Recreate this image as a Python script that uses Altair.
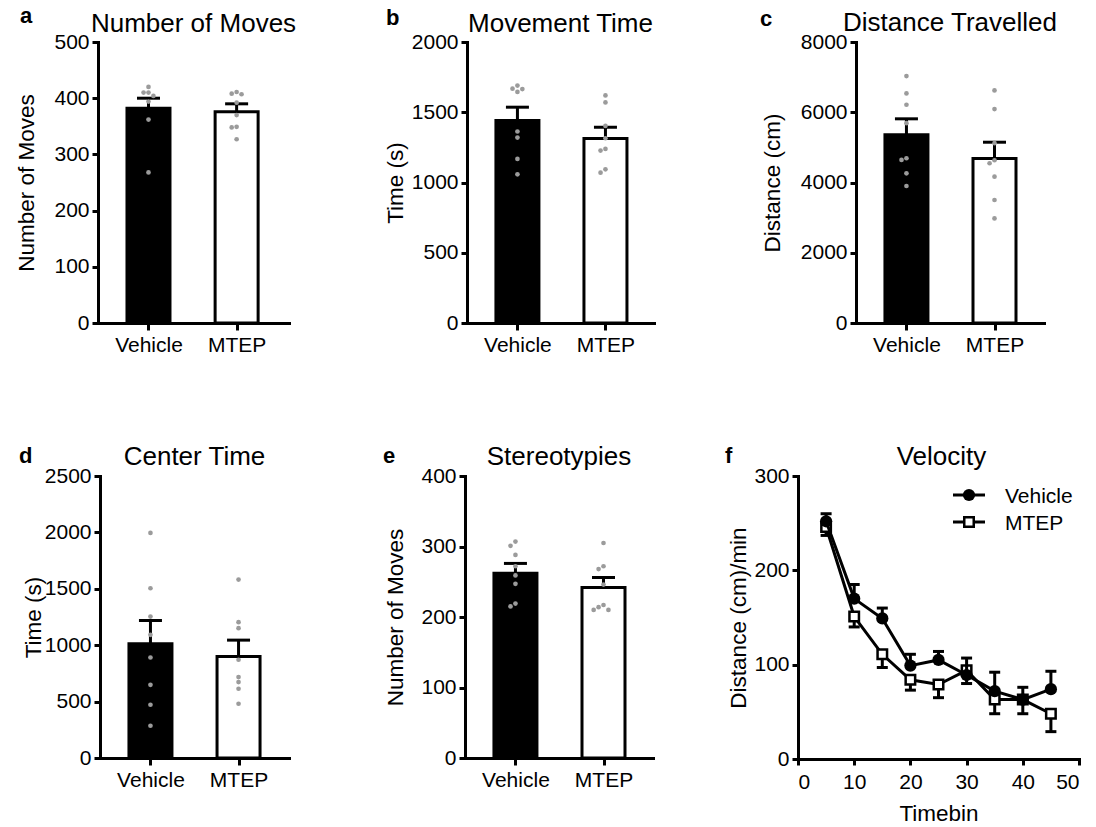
import altair as alt
import pandas as pd
import numpy as np

FONT = "Liberation Sans"
groups = ["Vehicle", "MTEP"]

# ---- data ----
a_veh = [420, 410, 410, 404, 394, 362, 268]
a_mtep = [411, 408, 407, 392, 370, 349, 348, 327]
a_mean = [382, 376]
a_sem = [18, 14]

b_veh = [1690, 1668, 1665, 1645, 1363, 1320, 1168, 1058]
b_mtep = [1620, 1570, 1403, 1315, 1239, 1227, 1094, 1070]
b_mean = [1441, 1313]
b_sem = [95, 81]

c_veh = [7031, 6537, 6213, 5690, 4690, 4643, 4262, 3901]
c_mtep = [6622, 6089, 5119, 4634, 4548, 4167, 3501, 2978]
c_mean = [5356, 4681]
c_sem = [457, 466]

d_veh = [1995, 1505, 1254, 1092, 891, 649, 472, 286]
d_mtep = [1582, 1204, 1151, 871, 717, 673, 614, 481]
d_mean = [1012, 900]
d_sem = [207, 145]

e_veh = [307, 301, 288, 272, 259, 247, 219, 215]
e_mtep = [305, 272, 268, 246, 217, 214, 210, 210]
e_mean = [262, 242]
e_sem = [14, 14]

timebin = [5, 10, 15, 20, 25, 30, 35, 40, 45]
f_veh = [252, 170, 149, 99, 105, 89, 72, 63, 74]
f_veh_sem = [8, 15, 11, 12, 9, 18, 20, 13, 19]
f_mtep = [246, 151, 111, 84, 79, 94, 63, 63, 48]
f_mtep_sem = [9, 11, 14, 11, 14, 14, 15, 15, 19]

# ---- layout helpers ----
UNIT = 93.0   # px between the two bar centres
LEFT = 48.0   # px from y axis to first bar centre
DOT = 5.2

AX = dict(domainColor="black", domainWidth=3, domainCap="square", tickColor="black", tickWidth=3,
          labelColor="black", labelFont=FONT, labelFontSize=21, titleFont=FONT, titleFontSize=22.5,
          titleColor="black", titleFontWeight="normal", grid=False, format="d")


def swarm(values, ymax, height):
    vals = np.array(values, dtype=float)
    order = np.argsort(-vals)
    placed = []
    offs = [0.0] * len(values)
    for i in order:
        ypx = vals[i] / ymax * height
        xo = 0.0
        for cand in [0, -1, 1, -2, 2, -3, 3]:
            xo = cand * DOT
            if all((xo - px) ** 2 + (ypx - py) ** 2 >= (DOT * 0.95) ** 2 for py, px in placed):
                break
        placed.append((ypx, xo))
        offs[i] = xo / UNIT
    return offs


def bar_panel(letter, title, ytitle, ymax, ystep, veh, mtep, means, sems,
              width, height, ytitle_x, letter_xy, title_y):
    lo = -LEFT / UNIT
    hi = (width - LEFT) / UNIT
    xscale = alt.Scale(domain=[lo, hi], nice=False, zero=False)
    yscale = alt.Scale(domain=[0, ymax], nice=False)
    xaxis = alt.Axis(values=[0, 1], title=None,
                     labelExpr=f"datum.value == 0 ? '{groups[0]}' : '{groups[1]}'",
                     tickSize=7, labelPadding=4, **AX)
    yaxis = alt.Axis(values=list(range(0, ymax + 1, ystep)), title=ytitle,
                     titleX=ytitle_x, titleY=height / 2, titleAngle=270,
                     titleAlign="center", titleBaseline="alphabetic",
                     tickSize=6, labelPadding=3, **AX)
    summ = pd.DataFrame({"group": groups, "pos": [0, 1], "mean": means,
                         "top": [m + s for m, s in zip(means, sems)]})
    rows = []
    for gi, (g, vals) in enumerate(zip(groups, [veh, mtep])):
        for v, o in zip(vals, swarm(vals, ymax, height)):
            rows.append({"group": g, "x": gi + o, "value": v})
    pts = pd.DataFrame(rows)
    base = alt.Chart(summ)
    bars = base.mark_bar(orient="vertical", size=43, stroke="black", strokeWidth=3).encode(
        x=alt.X("pos:Q", scale=xscale, axis=xaxis),
        y=alt.Y("mean:Q", scale=yscale, axis=yaxis),
        fill=alt.Fill("group:N", scale=alt.Scale(domain=groups, range=["black", "white"]), legend=None),
    )
    stem = base.mark_rule(strokeWidth=3, color="black").encode(
        x=alt.X("pos:Q", scale=xscale, axis=xaxis),
        y=alt.Y("mean:Q", scale=yscale, axis=yaxis), y2="top:Q")
    cap = base.mark_tick(orient="horizontal", size=23, thickness=3, color="black", opacity=1).encode(
        x=alt.X("pos:Q", scale=xscale, axis=xaxis),
        y=alt.Y("top:Q", scale=yscale, axis=yaxis))
    dots = alt.Chart(pts).mark_circle(size=22, color="#9b9b9b", opacity=1).encode(
        x=alt.X("x:Q", scale=xscale, axis=xaxis),
        y=alt.Y("value:Q", scale=yscale, axis=yaxis))
    ann = pd.DataFrame({"letter": [letter], "title": [title]})
    let = alt.Chart(ann).mark_text(font=FONT, fontSize=22, fontWeight="bold", align="left",
                                   baseline="alphabetic", color="black").encode(
        text="letter:N", x=alt.value(letter_xy[0]), y=alt.value(letter_xy[1]))
    tit = alt.Chart(ann).mark_text(font=FONT, fontSize=26, align="center",
                                   baseline="alphabetic", color="black").encode(
        text="title:N", x=alt.value(width / 2), y=alt.value(title_y))
    return alt.layer(bars, stem, cap, dots, let, tit).properties(width=width, height=height)


def line_panel(width, height):
    xscale = alt.Scale(domain=[0, 50], nice=False)
    yscale = alt.Scale(domain=[0, 300], nice=False)
    xaxis = alt.Axis(values=list(range(0, 51, 10)), title="Timebin",
                     titleX=width / 2, titleY=61, titleBaseline="alphabetic",
                     tickSize=6, labelPadding=6, **AX)
    yaxis = alt.Axis(values=[0, 100, 200, 300], title="Distance (cm)/min",
                     titleX=-53, titleY=height / 2, titleAngle=270, titleAlign="center",
                     titleBaseline="alphabetic", tickSize=6, labelPadding=3, **AX)
    veh = pd.DataFrame({"t": timebin, "mean": f_veh,
                        "lo": f_veh, "hi": [m + s for m, s in zip(f_veh, f_veh_sem)]})
    mt = pd.DataFrame({"t": timebin, "mean": f_mtep,
                       "lo": [m - s for m, s in zip(f_mtep, f_mtep_sem)], "hi": f_mtep})
    X = lambda f: alt.X(f, scale=xscale, axis=xaxis)
    Y = lambda f: alt.Y(f, scale=yscale, axis=yaxis)
    layers = []
    # MTEP: error below
    mb = alt.Chart(mt)
    layers.append(mb.mark_line(color="black", strokeWidth=3).encode(x=X("t:Q"), y=Y("mean:Q")))
    layers.append(mb.mark_rule(color="black", strokeWidth=3).encode(x=X("t:Q"), y=Y("lo:Q"), y2="hi:Q"))
    layers.append(mb.mark_tick(orient="horizontal", size=11, thickness=3, color="black", opacity=1)
                  .encode(x=X("t:Q"), y=Y("lo:Q")))
    layers.append(mb.mark_square(size=90, fill="white", stroke="black", strokeWidth=2.5, opacity=1)
                  .encode(x=X("t:Q"), y=Y("mean:Q")))
    # Vehicle: error above
    vb = alt.Chart(veh)
    layers.append(vb.mark_line(color="black", strokeWidth=3).encode(x=X("t:Q"), y=Y("mean:Q")))
    layers.append(vb.mark_rule(color="black", strokeWidth=3).encode(x=X("t:Q"), y=Y("lo:Q"), y2="hi:Q"))
    layers.append(vb.mark_tick(orient="horizontal", size=11, thickness=3, color="black", opacity=1)
                  .encode(x=X("t:Q"), y=Y("hi:Q")))
    layers.append(vb.mark_circle(size=150, color="black", opacity=1)
                  .encode(x=X("t:Q"), y=Y("mean:Q")))
    # manual legend
    for i, g in enumerate(groups):
        ld = alt.Chart(pd.DataFrame({"s": [g]}))
        ly = 19 + 27 * i
        layers.append(ld.mark_rule(color="black", strokeWidth=3).encode(
            x=alt.value(155), x2=alt.value(187), y=alt.value(ly)))
        if i == 0:
            layers.append(ld.mark_circle(size=150, color="black", opacity=1).encode(
                x=alt.value(171), y=alt.value(ly)))
        else:
            layers.append(ld.mark_square(size=90, fill="white", stroke="black", strokeWidth=2.5,
                                         opacity=1).encode(x=alt.value(171), y=alt.value(ly)))
        layers.append(ld.mark_text(font=FONT, fontSize=21, align="left", baseline="alphabetic",
                                   color="black").encode(text="s:N", x=alt.value(207), y=alt.value(ly + 7.5)))
    ann = pd.DataFrame({"letter": ["f"], "title": ["Velocity"]})
    layers.append(alt.Chart(ann).mark_text(font=FONT, fontSize=22, fontWeight="bold", align="left",
                                           baseline="alphabetic", color="black").encode(
        text="letter:N", x=alt.value(-73), y=alt.value(-13)))
    layers.append(alt.Chart(ann).mark_text(font=FONT, fontSize=26, align="center",
                                           baseline="alphabetic", color="black").encode(
        text="title:N", x=alt.value(width / 2 + 3), y=alt.value(-11)))
    return alt.layer(*layers).properties(width=width, height=height)


def spacer(w, h):
    return alt.Chart(pd.DataFrame({"v": [0]})).mark_point(opacity=0).encode(
        x=alt.X("v:Q", axis=None), y=alt.Y("v:Q", axis=None)).properties(width=w, height=h)


H1, H2 = 281, 282
pa = bar_panel("a", "Number of Moves", "Number of Moves", 500, 100, a_veh, a_mtep, a_mean, a_sem,
               191, H1, -65, (-78, -19), -10)
pb = bar_panel("b", "Movement Time", "Time (s)", 2000, 500, b_veh, b_mtep, b_mean, b_sem,
               187, H1, -65, (-81, -17), -10)
pc = bar_panel("c", "Distance Travelled", "Distance (cm)", 8000, 2000, c_veh, c_mtep, c_mean, c_sem,
               188, H1, -77, (-96, -16), -11)
pd_ = bar_panel("d", "Center Time", "Time (s)", 2500, 500, d_veh, d_mtep, d_mean, d_sem,
                189, H2, -60, (-81, -13), -11)
pe = bar_panel("e", "Stereotypies", "Number of Moves", 400, 100, e_veh, e_mtep, e_mean, e_sem,
               188, H2, -63, (-82, -13), -11)
pf = line_panel(281, 283)

row1 = alt.hconcat(pa, spacer(178, H1), pb, spacer(202, H1), pc, spacing=0, bounds="flush")
row2 = alt.hconcat(spacer(2, H2), pd_, spacer(176, H2), pe, spacer(145, H2), pf, spacing=0, bounds="flush")

# with flush bounds the nested row counts as zero height, so the spacing spans row 1's plot height too
chart = alt.vconcat(row1, row2, spacing=H1 + 153, bounds="flush").properties(
    padding={"left": 7, "top": -3, "right": 5, "bottom": 5},
    background="white",
).configure_view(strokeWidth=0, stroke=None)

chart.save("out.html", embed_options={"renderer": "svg", "actions": False})
